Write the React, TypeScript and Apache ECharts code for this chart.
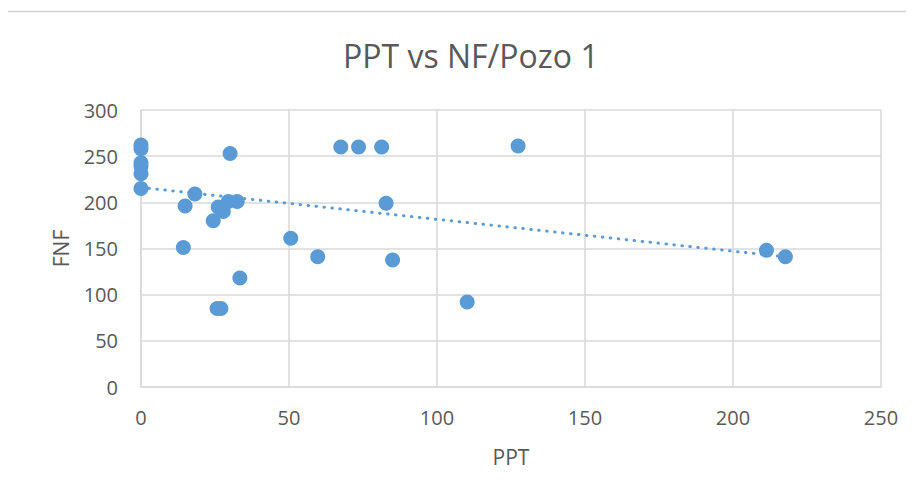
import React, { useEffect, useRef } from "react";
import * as echarts from "echarts";

const ppt = [0, 0, 0, 0, 0, 0, 30.1, 18.2, 14.9, 24.4, 26.1, 27.8, 29.5, 32.5, 14.3, 50.6, 33.4, 25.7, 27, 67.5, 73.5, 81.3, 127.4, 82.8, 59.7, 85, 110.2, 211.3, 217.7];
const fnf = [262, 258, 243, 239, 231, 215, 253, 209, 196, 180, 195, 190, 201, 201, 151, 161, 118, 85, 85, 260, 260, 260, 261, 199, 141, 137.5, 92, 148, 141];
const trendX = [0, 217.7];
const trendY = [216.1, 141];

export default function App() {
  const ref = useRef<HTMLDivElement>(null);
  useEffect(() => {
    if (!ref.current) return;
    const chart = echarts.init(ref.current, null, { renderer: "svg" });
    const font = "'Open Sans', 'Noto Sans', sans-serif";
    chart.setOption({
      animation: false,
      backgroundColor: "#ffffff",
      textStyle: { fontFamily: font },
      title: {
        text: "PPT vs NF/Pozo 1",
        left: 338,
        top: 34,
        textStyle: { fontFamily: font, fontSize: 32, fontWeight: "normal", color: "#595959" },
      },
      graphic: [
        {
          type: "rect",
          shape: { x: 4.5, y: 11.5, width: 940, height: 520 },
          style: { fill: "none", stroke: "#d0d0d0", lineWidth: 1.5 },
          silent: true,
          z: -1,
        },
      ],
      grid: { left: 141, right: 33, top: 110, bottom: 113 },
      xAxis: {
        type: "value",
        min: 0,
        max: 250,
        interval: 50,
        name: "PPT",
        nameLocation: "middle",
        nameGap: 59,
        nameTextStyle: { fontSize: 21, color: "#595959", fontFamily: font },
        axisLine: { show: true, lineStyle: { color: "#d9d9d9", width: 1.5 } },
        axisTick: { show: false },
        axisLabel: { fontSize: 20, color: "#595959", margin: 20, fontFamily: font },
        splitLine: { show: true, lineStyle: { color: "#d9d9d9", width: 1.5 } },
      },
      yAxis: {
        type: "value",
        min: 0,
        max: 300,
        interval: 50,
        name: "FNF",
        nameLocation: "middle",
        nameGap: 70,
        nameRotate: 90,
        nameTextStyle: { fontSize: 21, color: "#595959", fontFamily: font },
        axisLine: { show: true, lineStyle: { color: "#d9d9d9", width: 1.5 } },
        axisTick: { show: false },
        axisLabel: { fontSize: 20, color: "#595959", margin: 23, fontFamily: font },
        splitLine: { show: true, lineStyle: { color: "#d9d9d9", width: 1.5 } },
      },
      series: [
        {
          type: "line",
          data: trendX.map((x, i) => [x, trendY[i]]),
          showSymbol: false,
          symbol: "none",
          lineStyle: { color: "#5b9bd5", width: 3, type: [0.5, 7.5], cap: "round" },
          z: 1,
          silent: true,
        },
        {
          type: "scatter",
          data: ppt.map((x, i) => [x, fnf[i]]),
          symbolSize: 15,
          itemStyle: { color: "#5b9bd5", opacity: 1 },
          z: 2,
        },
      ],
    });
    return () => chart.dispose();
  }, []);
  return <div ref={ref} style={{ width: 914, height: 500, margin: -8 }} />;
}
